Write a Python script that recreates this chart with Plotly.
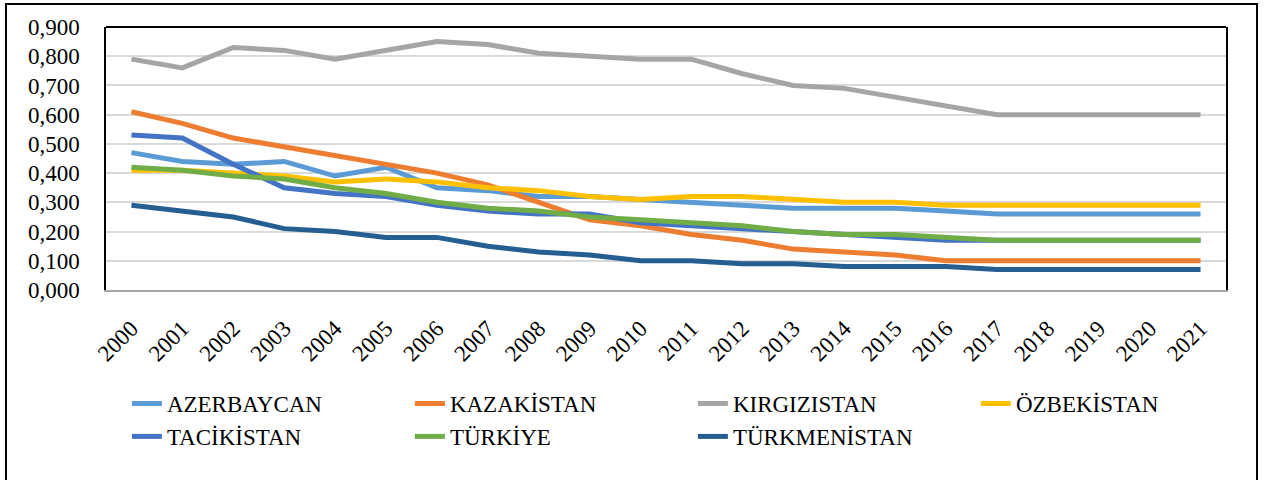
import plotly.graph_objects as go

years = [str(y) for y in range(2000, 2022)]

azerbaycan = [0.47, 0.44, 0.43, 0.44, 0.39, 0.42, 0.35, 0.34, 0.32, 0.32, 0.31,
              0.30, 0.29, 0.28, 0.28, 0.28, 0.27, 0.26, 0.26, 0.26, 0.26, 0.26]
kazakistan = [0.61, 0.57, 0.52, 0.49, 0.46, 0.43, 0.40, 0.36, 0.30, 0.24, 0.22,
              0.19, 0.17, 0.14, 0.13, 0.12, 0.10, 0.10, 0.10, 0.10, 0.10, 0.10]
kirgizistan = [0.79, 0.76, 0.83, 0.82, 0.79, 0.82, 0.85, 0.84, 0.81, 0.80, 0.79,
               0.79, 0.74, 0.70, 0.69, 0.66, 0.63, 0.60, 0.60, 0.60, 0.60, 0.60]
ozbekistan = [0.41, 0.41, 0.40, 0.39, 0.37, 0.38, 0.37, 0.35, 0.34, 0.32, 0.31,
              0.32, 0.32, 0.31, 0.30, 0.30, 0.29, 0.29, 0.29, 0.29, 0.29, 0.29]
tacikistan = [0.53, 0.52, 0.43, 0.35, 0.33, 0.32, 0.29, 0.27, 0.26, 0.26, 0.23,
              0.22, 0.21, 0.20, 0.19, 0.18, 0.17, 0.17, 0.17, 0.17, 0.17, 0.17]
turkiye = [0.42, 0.41, 0.39, 0.38, 0.35, 0.33, 0.30, 0.28, 0.27, 0.25, 0.24,
           0.23, 0.22, 0.20, 0.19, 0.19, 0.18, 0.17, 0.17, 0.17, 0.17, 0.17]
turkmenistan = [0.29, 0.27, 0.25, 0.21, 0.20, 0.18, 0.18, 0.15, 0.13, 0.12, 0.10,
                0.10, 0.09, 0.09, 0.08, 0.08, 0.08, 0.07, 0.07, 0.07, 0.07, 0.07]

series = [
    ("AZERBAYCAN", azerbaycan, "#5B9BD5"),
    ("KAZAKİSTAN", kazakistan, "#ED7D31"),
    ("KIRGIZISTAN", kirgizistan, "#A5A5A5"),
    ("ÖZBEKİSTAN", ozbekistan, "#FFC000"),
    ("TACİKİSTAN", tacikistan, "#4472C4"),
    ("TÜRKİYE", turkiye, "#70AD47"),
    ("TÜRKMENİSTAN", turkmenistan, "#255E91"),
]

FONT = "Liberation Serif"

fig = go.Figure()
for name, vals, color in series:
    fig.add_trace(go.Scatter(x=years, y=vals, name=name, mode="lines",
                             line=dict(color=color, width=5)))

fig.update_layout(
    width=1264, height=480,
    margin=dict(l=106, r=38, t=27, b=190, autoexpand=False),
    paper_bgcolor="white", plot_bgcolor="white",
    separators=",.",
    font=dict(family=FONT, size=23, color="black"),
    showlegend=True,
    legend=dict(orientation="h", x=-0.0001, xanchor="left", y=-0.35, yanchor="top",
                indentation=21,
                font=dict(family=FONT, size=23, color="black"),
                entrywidth=217, entrywidthmode="pixels",
                tracegroupgap=0, bgcolor="rgba(0,0,0,0)"),
    shapes=[
        dict(type="rect", xref="paper", yref="paper", x0=-0.0893, x1=1.0277,
             y0=-0.76, y1=1.0875, line=dict(color="black", width=2)),
        dict(type="line", xref="paper", yref="paper", x0=0, x1=1, y0=1, y1=1,
             line=dict(color="black", width=2)),
    ],
)

fig.update_xaxes(type="category", range=[-0.5, 21.5], tickangle=-45,
                 showgrid=False, showline=True, linecolor="#a6a6a6", linewidth=2,
                 ticks="", ticklabelstandoff=14, automargin=False,
                 tickfont=dict(family=FONT, size=23, color="black"))
fig.update_yaxes(range=[0, 0.9], dtick=0.1, tick0=0, tickformat=".3f",
                 showgrid=True, gridcolor="#d9d9d9", gridwidth=1.5,
                 showline=True, linecolor="black", linewidth=1.5, mirror=True,
                 zeroline=False, ticks="", ticklabelstandoff=20, automargin=False,
                 tickfont=dict(family=FONT, size=23, color="black"))

fig.write_html("out.html", config={"displayModeBar": False},
               post_script="document.body.style.margin='0';")
